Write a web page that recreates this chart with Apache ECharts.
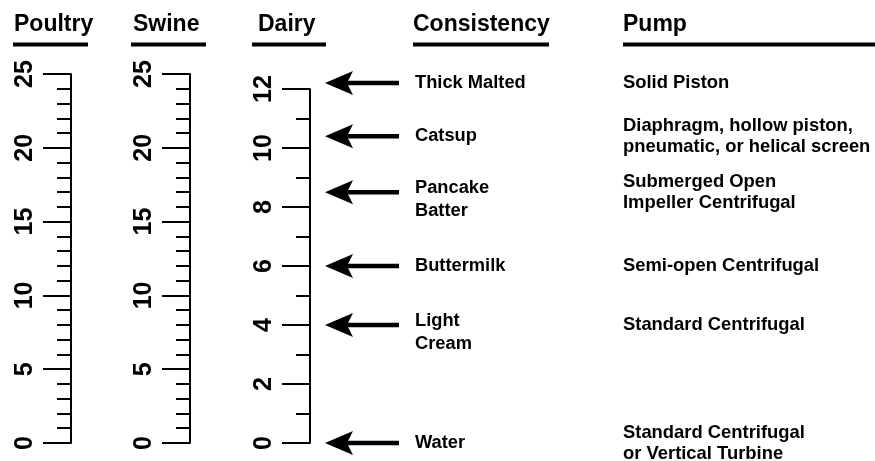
<!DOCTYPE html>
<html><head><meta charset="utf-8">
<script src="https://cdn.jsdelivr.net/npm/echarts@6/dist/echarts.min.js"></script>
<style>html,body{margin:0;padding:0;background:#fff}#c{width:875px;height:461px}</style>
</head><body><div id="c"></div>
<script>
// ---- data ----
const headers = ['Poultry', 'Swine', 'Dairy', 'Consistency', 'Pump'];
const poultryTicks = [0, 5, 10, 15, 20, 25];
const swineTicks = [0, 5, 10, 15, 20, 25];
const dairyTicks = [0, 2, 4, 6, 8, 10, 12];
const dairyValues = [12.2, 10.4, 8.5, 6, 4, 0];
const consistency = ['Thick Malted', 'Catsup', 'Pancake\nBatter', 'Buttermilk', 'Light\nCream', 'Water'];
const pumps = ['Solid Piston', 'Diaphragm, hollow piston,\npneumatic, or helical screen', 'Submerged Open\nImpeller Centrifugal', 'Semi-open Centrifugal', 'Standard Centrifugal', 'Standard Centrifugal\nor Vertical Turbine'];

// ---- chart ----
const FONT = '"Liberation Sans", Arial, Helvetica, sans-serif';
const chart = echarts.init(document.getElementById('c'), null, { renderer: 'canvas' });

function yAx(idx, ticks, minorSplit) {
  return {
    type: 'value', gridIndex: idx, position: 'left',
    min: ticks[0], max: ticks[ticks.length - 1], interval: ticks[1] - ticks[0],
    axisLine: { show: true, lineStyle: { color: '#000', width: 2 } },
    axisTick: { show: true, inside: false, length: 28, lineStyle: { color: '#000', width: 2 } },
    minorTick: { show: true, splitNumber: minorSplit, length: 14, lineStyle: { color: '#000', width: 2 } },
    splitLine: { show: false }, minorSplitLine: { show: false },
    axisLabel: { show: true, rotate: 90, margin: 33, fontSize: 25, fontWeight: 'bold', color: '#000', fontFamily: FONT, showMinLabel: true, showMaxLabel: true }
  };
}
function xAx(idx) {
  return { type: 'value', gridIndex: idx, show: false, min: 0, max: 1 };
}

const grids = [
  { left: 71, top: 74, width: 10, height: 369, outerBoundsMode: 'none' },
  { left: 190, top: 74, width: 10, height: 369, outerBoundsMode: 'none' },
  { left: 310, top: 89, width: 10, height: 354, outerBoundsMode: 'none' }
];

const headerPos = [[14, 13, 88], [133, 131, 206], [258, 252, 326], [413, 413, 549], [623, 623, 875]];
const graphic = [];
headers.forEach((h, i) => {
  const p = headerPos[i];
  graphic.push({ type: 'text', x: p[0], y: 25, style: { text: h, font: 'bold 23px ' + FONT, fill: '#000', verticalAlign: 'middle', align: 'left' } });
  graphic.push({ type: 'line', shape: { x1: p[1], y1: 44.5, x2: p[2], y2: 44.5 }, style: { stroke: '#000', lineWidth: 4 } });
});

const option = {
  backgroundColor: '#fff',
  animation: false,
  grid: grids,
  xAxis: [xAx(0), xAx(1), xAx(2)],
  yAxis: [yAx(0, poultryTicks, 5), yAx(1, swineTicks, 5), yAx(2, dairyTicks, 2)],
  graphic: graphic,
  series: [
    { type: 'line', xAxisIndex: 0, yAxisIndex: 0, data: [], silent: true },
    { type: 'line', xAxisIndex: 1, yAxisIndex: 1, data: [], silent: true },
    {
      type: 'custom', xAxisIndex: 2, yAxisIndex: 2, clip: false, silent: true,
      data: dairyValues.map((v, i) => [0, v, i]),
      renderItem: function (params, api) {
        const p = api.coord([0, api.value(1)]);
        const i = api.value(2);
        const x0 = p[0], y = p[1];
        const cLines = consistency[i].split('\n').length;
        return {
          type: 'group',
          children: [
            { type: 'line', shape: { x1: x0 + 35, y1: y, x2: x0 + 89, y2: y }, style: { stroke: '#000', lineWidth: 4.5 } },
            { type: 'polygon', shape: { points: [[x0 + 15, y], [x0 + 43, y - 12], [x0 + 37, y], [x0 + 43, y + 12]] }, style: { fill: '#000' } },
            { type: 'text', x: x0 + 105, y: y + (cLines - 1) * 7, style: { text: consistency[i], font: 'bold 18.3px ' + FONT, fill: '#000', align: 'left', verticalAlign: 'middle', lineHeight: 23 } },
            { type: 'text', x: x0 + 313, y: y, style: { text: pumps[i], font: 'bold 18.4px ' + FONT, fill: '#000', align: 'left', verticalAlign: 'middle', lineHeight: 21 } }
          ]
        };
      }
    }
  ]
};
chart.setOption(option);
</script>
</body></html>
